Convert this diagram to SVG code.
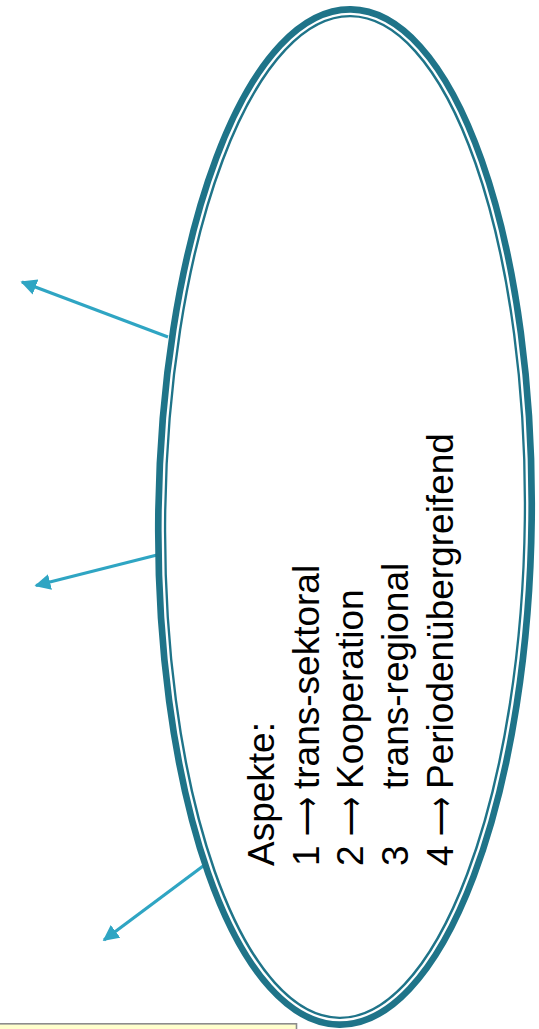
<svg xmlns="http://www.w3.org/2000/svg" width="539" height="1029" viewBox="0 0 539 1029">
  <style>
    .band { fill: none; stroke: #1f7489; stroke-width: 11.3; }
    .gap { fill: none; stroke: #ffffff; stroke-width: 2.3; }
    .conn { fill: none; stroke: #2fa5c3; stroke-width: 3.2; }
    .lbl { font-family: "Liberation Sans", Arial, sans-serif; font-size: 37px; fill: #000000; }
    .arr { font-family: "DejaVu Sans", sans-serif; font-size: 37px; fill: #000000; }
  </style>
  <defs>
    <marker id="ah" viewBox="0 0 10 10" refX="9" refY="5" markerWidth="5" markerHeight="5" orient="auto" markerUnits="strokeWidth">
      <path d="M0,0 L10,5 L0,10 z" fill="#2fa5c3"/>
    </marker>
  </defs>
  <rect width="539" height="1029" fill="#ffffff"/>

  <g id="note-box">
    <rect x="-2" y="1023.8" width="298.5" height="20" fill="#ffffcc" stroke="#8c8c8c" stroke-width="1.6"/>
  </g>

  <g id="connectors">
    <line class="conn" x1="168" y1="337" x2="22" y2="282" marker-end="url(#ah)"/>
    <line class="conn" x1="157" y1="555" x2="36" y2="585.5" marker-end="url(#ah)"/>
    <line class="conn" x1="206.5" y1="863.5" x2="104" y2="940" marker-end="url(#ah)"/>
  </g>

  <g id="aspekte-node">
    <g transform="rotate(0.65 345 517)">
      <ellipse class="band" cx="345" cy="517" rx="184.35" ry="505.35" fill="#ffffff"/>
      <ellipse class="gap" cx="345" cy="517" rx="182.15" ry="503.15"/>
    </g>
    <g transform="rotate(-90)">
      <text class="lbl" x="-866" y="274">Aspekte:</text>
      <text class="lbl" y="318.7"><tspan x="-866">1</tspan><tspan x="-789">trans-sektoral</tspan></text>
      <text class="arr" x="-836" y="318.7" textLength="39" lengthAdjust="spacingAndGlyphs">⟶</text>
      <text class="lbl" y="363.4"><tspan x="-866">2</tspan><tspan x="-789">Kooperation</tspan></text>
      <text class="arr" x="-836" y="363.4" textLength="39" lengthAdjust="spacingAndGlyphs">⟶</text>
      <text class="lbl" y="408.1"><tspan x="-866">3</tspan><tspan x="-789">trans-regional</tspan></text>
      <text class="lbl" y="452.8"><tspan x="-866">4</tspan><tspan x="-789">Periodenübergreifend</tspan></text>
      <text class="arr" x="-836" y="452.8" textLength="39" lengthAdjust="spacingAndGlyphs">⟶</text>
    </g>
  </g>
</svg>
